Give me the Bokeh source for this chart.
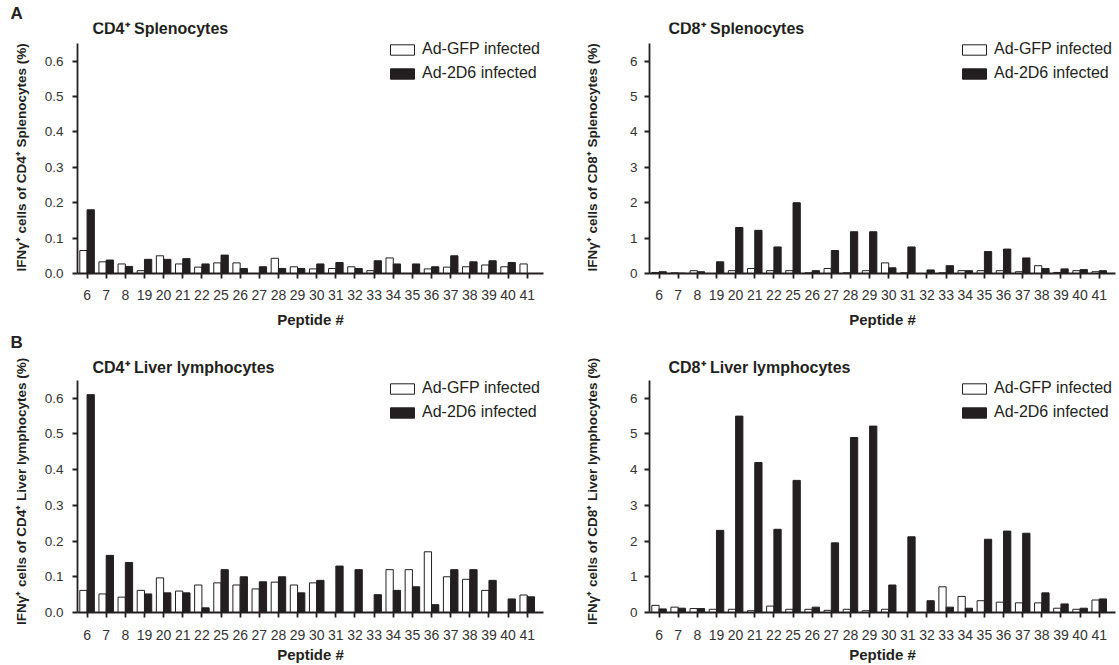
from bokeh.plotting import figure
from bokeh.models import (ColumnDataSource, Range1d, FixedTicker, Legend, Title, Label,
                          LegendItem, NumeralTickFormatter)
from bokeh.layouts import column, row
from bokeh.transform import dodge
from bokeh.embed import file_html
from bokeh.resources import INLINE

peptides = ["6", "7", "8", "19", "20", "21", "22", "25", "26", "27", "28", "29",
            "30", "31", "32", "33", "34", "35", "36", "37", "38", "39", "40", "41"]

cd4_spl_gfp = [0.065, 0.033, 0.027, 0.008, 0.050, 0.027, 0.018, 0.030, 0.030, 0.0, 0.043, 0.019,
               0.013, 0.014, 0.019, 0.008, 0.044, 0.0, 0.013, 0.018, 0.019, 0.024, 0.019, 0.027]
cd4_spl_2d6 = [0.180, 0.038, 0.020, 0.040, 0.040, 0.042, 0.027, 0.052, 0.014, 0.019, 0.014, 0.014,
               0.027, 0.031, 0.014, 0.036, 0.027, 0.027, 0.019, 0.050, 0.033, 0.036, 0.031, 0.0]

cd8_spl_gfp = [0.03, 0.02, 0.08, 0.0, 0.08, 0.14, 0.08, 0.08, 0.02, 0.14, 0.02, 0.08,
               0.30, 0.02, 0.0, 0.02, 0.08, 0.08, 0.08, 0.05, 0.22, 0.03, 0.08, 0.05]
cd8_spl_2d6 = [0.05, 0.01, 0.05, 0.33, 1.30, 1.22, 0.75, 2.00, 0.08, 0.65, 1.18, 1.18,
               0.16, 0.75, 0.10, 0.22, 0.08, 0.62, 0.69, 0.44, 0.14, 0.13, 0.11, 0.08]

cd4_liv_gfp = [0.062, 0.052, 0.043, 0.062, 0.097, 0.060, 0.077, 0.083, 0.077, 0.066, 0.085, 0.077,
               0.083, 0.0, 0.0, 0.0, 0.120, 0.120, 0.170, 0.100, 0.093, 0.062, 0.0, 0.049]
cd4_liv_2d6 = [0.610, 0.160, 0.140, 0.052, 0.055, 0.055, 0.013, 0.120, 0.100, 0.086, 0.100, 0.055,
               0.090, 0.130, 0.120, 0.050, 0.062, 0.072, 0.022, 0.120, 0.120, 0.090, 0.038, 0.044]

cd8_liv_gfp = [0.20, 0.15, 0.11, 0.09, 0.09, 0.05, 0.18, 0.09, 0.09, 0.06, 0.09, 0.05,
               0.09, 0.0, 0.0, 0.72, 0.45, 0.33, 0.29, 0.27, 0.27, 0.12, 0.09, 0.35]
cd8_liv_2d6 = [0.10, 0.12, 0.11, 2.30, 5.50, 4.20, 2.33, 3.70, 0.15, 1.95, 4.90, 5.22,
               0.77, 2.12, 0.33, 0.15, 0.12, 2.05, 2.28, 2.22, 0.55, 0.24, 0.12, 0.38]

cd4_ticks = [0.0, 0.1, 0.2, 0.3, 0.4, 0.5, 0.6]
cd8_ticks = [0, 1, 2, 3, 4, 5, 6]
series_names = ["Ad-GFP infected", "Ad-2D6 infected"]

FONT = "Liberation Sans"
INK = "#231f20"
NB = "\u00a0"
X0, X1 = -0.5, 23.85
FRAME_W = 466


def make_panel(gfp, d2d6, ymax, yticks, fmt, title, ylabel, letter,
               width, height, bl, br, bt, bb, axis_px, ext_px,
               ylab_standoff, tick_standoff, xtick_standoff, xlab_standoff, title_dx):
    # axis_px: pixel height of the drawn y axis (0..ymax); ext_px: full frame height
    y_end = ymax * ext_px / axis_px
    p = figure(width=width, height=height, output_backend="svg", toolbar_location=None,
               x_range=Range1d(X0, X1), y_range=Range1d(0, y_end),
               min_border_left=bl, min_border_right=br, min_border_top=bt, min_border_bottom=bb)
    src = ColumnDataSource(dict(idx=list(range(len(peptides))), gfp=gfp, d2d6=d2d6))
    r1 = p.vbar(x=dodge("idx", -0.19, range=p.x_range), top="gfp", width=0.38, bottom=0,
                source=src, fill_color="white", line_color=INK, line_width=1)
    r2 = p.vbar(x=dodge("idx", 0.19, range=p.x_range), top="d2d6", width=0.38, bottom=0,
                source=src, fill_color=INK, line_color=INK, line_width=1)

    p.xgrid.visible = False
    p.ygrid.visible = False
    p.outline_line_color = None
    p.background_fill_color = "white"
    p.border_fill_color = "white"

    for ax in (p.xaxis[0], p.yaxis[0]):
        ax.axis_line_color = INK
        ax.axis_line_width = 1.8
        ax.major_tick_line_color = INK
        ax.major_tick_line_width = 1.8
        ax.major_tick_out = 5
        ax.major_tick_in = 0
        ax.minor_tick_line_color = None
        ax.major_label_text_font = FONT
        ax.major_label_text_color = "#333333"
        ax.axis_label_text_font = FONT
        ax.axis_label_text_font_style = "bold"
        ax.axis_label_text_color = INK

    p.xaxis.ticker = FixedTicker(ticks=list(range(len(peptides))))
    p.xaxis.major_label_overrides = {i: lab for i, lab in enumerate(peptides)}
    p.xaxis.major_label_text_font_size = "14px"
    p.xaxis.major_label_standoff = xtick_standoff
    p.xaxis.axis_label = "Peptide #"
    p.xaxis.axis_label_text_font_size = "15px"
    p.xaxis.axis_label_standoff = xlab_standoff

    p.yaxis.ticker = FixedTicker(ticks=yticks)
    p.yaxis.bounds = (0, ymax)
    p.yaxis.formatter = NumeralTickFormatter(format=fmt)
    p.yaxis.major_label_text_font_size = "13.5px"
    p.yaxis.major_label_standoff = tick_standoff
    p.yaxis.axis_label = ylabel
    p.yaxis.axis_label_text_font_size = "13.5px"
    p.yaxis.axis_label_standoff = ylab_standoff

    legend = Legend(items=[LegendItem(label=series_names[0], renderers=[r1]),
                           LegendItem(label=series_names[1], renderers=[r2])],
                    location=(310, 191), margin=0, padding=0,
                    spacing=6, glyph_width=30, glyph_height=13, label_height=13, label_standoff=5,
                    label_text_font=FONT, label_text_font_size="16px", label_text_color=INK,
                    border_line_alpha=0, background_fill_alpha=0)
    p.add_layout(legend, "center")

    # chart title inside the (extended) frame, above the end of the y axis
    ppu = FRAME_W / (X1 - X0)
    p.add_layout(Label(x=X0 + title_dx / ppu, y=ymax * 245.5 / axis_px,
                       text=title, text_font=FONT, text_font_style="bold",
                       text_font_size="16px", text_color=INK,
                       text_align="left", text_baseline="alphabetic"))

    if letter:
        p.title = Title(text=letter, align="left", offset=-67, standoff=0,
                        text_font=FONT, text_font_style="bold", text_font_size="17px",
                        text_color=INK)
    else:
        p.title.visible = False
    return p


# top row: frame 22..273 (axis 0..ymax spans 230 px); bottom row: frame 350..612 (233 px)
p1 = make_panel(cd4_spl_gfp, cd4_spl_2d6, 0.65, cd4_ticks, "0.0", "CD4\u207a Splenocytes",
                "IFN\u03b3\u207a cells of CD4\u207a Splenocytes (%)" + NB * 5, "A",
                560, 330, 77, 17, 22, 57, 230, 251, 13, 9, 11, 8, 15)
p2 = make_panel(cd8_spl_gfp, cd8_spl_2d6, 6.5, cd8_ticks, "0", "CD8\u207a Splenocytes",
                "IFN\u03b3\u207a cells of CD8\u207a Splenocytes (%)" + NB * 5, None,
                559, 330, 89, 4, 22, 57, 230, 251, 27, 7, 11, 8, 19)
p3 = make_panel(cd4_liv_gfp, cd4_liv_2d6, 0.65, cd4_ticks, "0.0", "CD4\u207a Liver lymphocytes",
                "IFN\u03b3\u207a cells of CD4\u207a Liver lymphocytes (%)" + NB * 5, "B",
                560, 335, 77, 17, 20, 53, 233, 262, 13, 9, 12, 3, 15)
p4 = make_panel(cd8_liv_gfp, cd8_liv_2d6, 6.5, cd8_ticks, "0", "CD8\u207a Liver lymphocytes",
                "IFN\u03b3\u207a cells of CD8\u207a Liver lymphocytes (%)" + NB * 5, None,
                559, 335, 89, 4, 20, 53, 233, 262, 27, 7, 12, 3, 19)

layout = column(row(p1, p2, spacing=0), row(p3, p4, spacing=0), spacing=0)
open("out.html", "w").write(file_html(layout, INLINE))
